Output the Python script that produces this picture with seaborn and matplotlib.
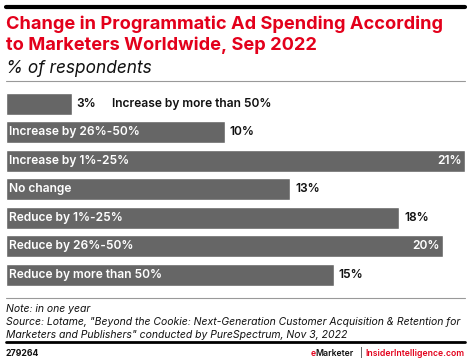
import matplotlib
matplotlib.use("Agg")
import matplotlib.pyplot as plt
import seaborn as sns
import pandas as pd
from matplotlib.lines import Line2D

categories = ["Increase by more than 50%", "Increase by 26%-50%", "Increase by 1%-25%",
              "No change", "Reduce by 1%-25%", "Reduce by 26%-50%", "Reduce by more than 50%"]
values = [3, 10, 21, 13, 18, 20, 15]
value_labels = ["3%", "10%", "21%", "13%", "18%", "20%", "15%"]

sns.set_theme(style="white")
plt.rcParams['font.family'] = ['Inter', 'DejaVu Sans']

W, H = 470, 362
fig = plt.figure(figsize=(W / 100, H / 100), dpi=100)
renderer = fig.canvas.get_renderer()

def fx(x):
    return x / W

def fy(y):
    return 1 - y / H

def fit(t, width_px):
    for _ in range(3):
        bb = t.get_window_extent(renderer=renderer)
        t.set_fontsize(t.get_fontsize() * width_px / bb.width)
    return t

# axes for bars
ax_top, ax_bot = 89.7, 289.2
ax = fig.add_axes([fx(6), fy(ax_bot), fx(465) - fx(6), (ax_bot - ax_top) / H])
df = pd.DataFrame({"category": categories, "value": values})
sns.barplot(data=df, x="value", y="category", color="#666666", saturation=1,
            width=0.77, ax=ax, orient="h")
ax.set_xlim(0, 21)
ax.set_ylim(6.5, -0.5)
ax.axis("off")

lab_fs = 8.0
probe = fig.text(0, 0, "Reduce by more than 50%", fontsize=lab_fs, fontweight="semibold")
fit(probe, 154)
lab_fs = probe.get_fontsize()
probe.remove()

for i, (cat, v, lab) in enumerate(zip(categories, values, value_labels)):
    if v >= 5:
        ax.text(0.15, i, cat, color="white", fontsize=lab_fs, va="center", ha="left",
                fontweight="semibold")
    if v >= 19:
        ax.text(v - 0.15, i, lab, color="white", fontsize=lab_fs, va="center", ha="right",
                fontweight="semibold")
    else:
        ax.text(v + 0.22, i, lab, color="#111111", fontsize=lab_fs, va="center", ha="left",
                fontweight="semibold")
        if v < 5:
            ax.text(v + 1.85, i, cat, color="#111111", fontsize=lab_fs, va="center",
                    ha="left", fontweight="semibold")

# decorative lines
fig.add_artist(Line2D([fx(6), fx(465)], [fy(7), fy(7)], color="black", lw=3))
fig.add_artist(Line2D([fx(6), fx(465)], [fy(81), fy(81)], color="#999999", lw=0.8))
fig.add_artist(Line2D([fx(6), fx(465)], [fy(298), fy(298)], color="#999999", lw=0.8))
fig.add_artist(Line2D([fx(6), fx(465)], [fy(342), fy(342)], color="black", lw=2))

red = "#e3001b"
t1 = fig.text(fx(6), fy(29), "Change in Programmatic Ad Spending According", color=red,
              fontsize=11, fontweight="bold", va="baseline", ha="left")
fit(t1, 437)
fig.text(fx(6), fy(50), "to Marketers Worldwide, Sep 2022", color=red,
         fontsize=t1.get_fontsize(), fontweight="bold", va="baseline", ha="left")
st = fig.text(fx(6), fy(73), "% of respondents", color="#111111",
              fontsize=10, style="italic", va="baseline", ha="left")
fit(st, 146)

note = fig.text(fx(6), fy(312), "Note: in one year", color="#111111", fontsize=7.1,
                style="italic", va="baseline")
s1 = fig.text(fx(6), fy(325), "Source: Lotame, \"Beyond the Cookie: Next-Generation Customer Acquisition & Retention for",
              color="#111111", fontsize=7.1, style="italic", va="baseline")
fit(s1, 457)
fs_note = s1.get_fontsize()
note.set_fontsize(fs_note)
fig.text(fx(6), fy(338), "Marketers and Publishers\" conducted by PureSpectrum, Nov 3, 2022",
         color="#111111", fontsize=fs_note, style="italic", va="baseline")

fig.text(fx(6), fy(356), "279264", color="#111111", fontsize=6.3, fontweight="bold",
         va="baseline")
ii = fig.text(fx(464), fy(356), "InsiderIntelligence.com", color=red, fontsize=6.8,
              fontweight="semibold", va="baseline", ha="right")
fit(ii, 98)
fsb = ii.get_fontsize()
fig.text(fx(361), fy(356), "|", color="#111111", fontsize=fsb,
         va="baseline", ha="center")
em = fig.text(fx(354), fy(356), "Marketer", color="#111111", fontsize=fsb,
              fontweight="semibold", va="baseline", ha="right")
emw = em.get_window_extent(renderer=renderer).width
fig.text(fx(354 - emw), fy(356), "e", color=red, fontsize=fsb,
         fontweight="semibold", va="baseline", ha="right")

fig.savefig("out.png", dpi=100)
